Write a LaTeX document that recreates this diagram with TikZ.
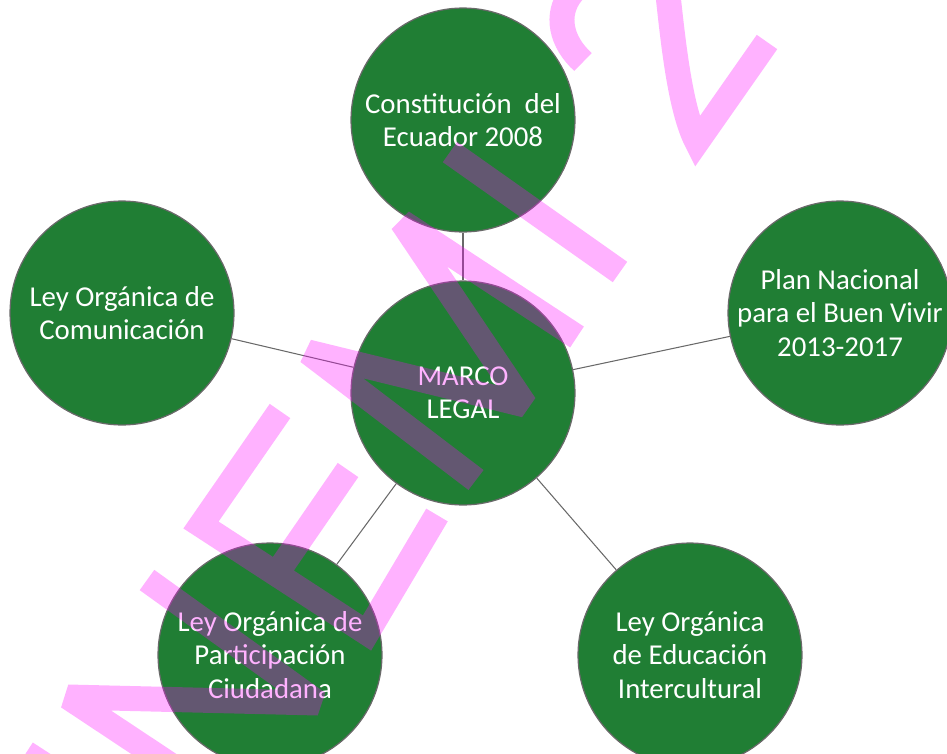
\documentclass[tikz,border=0pt]{standalone}
\usepackage{fontspec}
\setmainfont{Carlito}
\usepackage{tikz}
\usetikzlibrary{positioning}
\definecolor{verdeley}{RGB}{32,126,52}
\definecolor{bordeley}{RGB}{105,105,105}
\definecolor{rosamarca}{RGB}{255,0,255}
\tikzstyle{tema} = [circle, draw=bordeley, line width=0.7pt, fill=verdeley, text=white, minimum size=4.48cm, inner sep=0pt, align=center, font=\fontsize{16.4}{18.9}\selectfont]
\tikzstyle{enlace} = [draw=bordeley, line width=0.6pt]
\tikzstyle{marca} = [draw=rosamarca, draw opacity=0.3, line width=0.5cm, line join=miter, miter limit=2.5]

\begin{document}
\begin{tikzpicture}[x=0.02cm, y=-0.02cm]
		\useasboundingbox (0,0) rectangle (947,754);
		\node[tema] (constitucion) at (463,120) {Constitución~ del\\Ecuador 2008};
		\node[tema] (comunicacion) at (122,313) {Ley Orgánica de\\Comunicación};
		\node[tema] (marco) at (463,393) {MARCO\\LEGAL};
		\node[tema] (plan) at (840,313) {Plan Nacional\\para el Buen Vivir\\2013-2017};
		\node[tema] (participacion) at (270,655) {Ley Orgánica de\\Participación\\Ciudadana};
		\node[tema] (educacion) at (690,655) {Ley Orgánica\\de Educación\\Intercultural};
		\draw[enlace] (marco) -- (constitucion);
		\draw[enlace] (marco) -- (comunicacion);
		\draw[enlace] (marco) -- (plan);
		\draw[enlace] (marco) -- (participacion);
		\draw[enlace] (marco) -- (educacion);
		% marca de agua
		\draw[marca] (26,753) -- (80,788)
			(175,768) -- (68,697) -- (318,703) -- (147,580)
			(280,411) -- (201,525) -- (367,633) -- (437,515)
			(348,470) -- (277,573)
			(476,480) -- (308,352) -- (525,405) -- (402,222) -- (577,337)
			(450,152) -- (620,272)
			(583,62) .. controls (561,42) and (555,15) .. (571,-6) .. controls (600,-42) and (662,-40) .. (668,-5) .. controls (673,40) and (680,110) .. (697,142) -- (767,42);
\end{tikzpicture}
\end{document}
